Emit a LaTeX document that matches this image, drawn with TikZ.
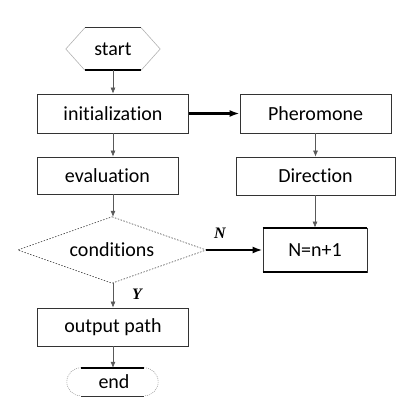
\documentclass[tikz,border=0pt]{standalone}
\usepackage{fontspec}
\setmainfont[Ligatures=NoCommon]{Carlito}
\newfontfamily\lblfont{Liberation Serif}
\usetikzlibrary{arrows.meta}

\begin{document}
\begin{tikzpicture}[x=1pt,y=-1pt,
    box/.style={draw=black!80, line width=0.8pt, minimum width=151pt, minimum height=39pt,
        inner sep=0pt, font=\fontsize{20}{22}\selectfont},
    shell/.style={inner sep=0pt, font=\fontsize{20}{22}\selectfont},
    flow/.style={-{Latex[length=6pt,width=5pt]}, draw=black!65, line width=0.6pt},
    bold flow/.style={-{Latex[length=10pt,width=7pt]}, draw=black, line width=2.2pt},
    lbl/.style={font=\lblfont\fontsize{16}{16}\selectfont\bfseries\itshape}]
    % Page size
    \useasboundingbox (0,0) rectangle (406,403);

    % Left column
    \node[shell, minimum width=94pt, minimum height=42pt] (start) at (113,49) {start};
    \node[box] (init) at (113,113.5) {initialization};
    \node[box, minimum width=141pt, minimum height=37pt] (eval) at (107.5,175.5) {evaluation};
    \node[shell, minimum width=188pt, minimum height=66pt] (cond) at (112,250) {conditions};
    \node[box, minimum height=38pt] (out) at (113,327) {output path};
    \node[shell, minimum width=94pt, minimum height=28pt] (stop) at (114,382) {end};

    % Right column
    \node[box] (pher) at (315.5,113.5) {Pheromone};
    \node[box, minimum width=159pt, minimum height=38pt] (dir) at (315.5,176) {Direction};
    \node[box, minimum width=104pt, minimum height=44pt] (count) at (315,250) {N=n+1};
    \draw[line width=2pt] (count.north west) -- (count.north east);
    \draw[line width=2pt] (count.south west) -- (count.south east);

    % Start hexagon
    \draw[black!30, line width=0.6pt] ([xshift=19pt]start.north west) -- (start.west) -- ([xshift=19pt]start.south west);
    \draw[black!30, line width=0.6pt] ([xshift=-19pt]start.north east) -- (start.east) -- ([xshift=-19pt]start.south east);
    \draw[black!80, line width=0.8pt] ([xshift=19pt]start.north west) -- ([xshift=-19pt]start.north east);
    \draw[line width=2pt] ([xshift=19pt]start.south west) -- ([xshift=-19pt]start.south east);

    % Decision diamond
    \draw[black!75, line width=0.6pt, dash pattern=on 1.5pt off 1.5pt]
        (cond.north) -- (cond.east) -- (cond.south) -- (cond.west) -- cycle;

    % End terminal
    \draw[black!35, line width=0.6pt, dash pattern=on 1pt off 1pt]
        ([xshift=14pt]stop.north west) arc (90:270:14pt);
    \draw[black!35, line width=0.6pt, dash pattern=on 1pt off 1pt]
        ([xshift=-17pt]stop.north east) arc (90:-90:14pt);
    \draw[line width=2pt] ([xshift=14pt]stop.north west) -- ([xshift=-17pt]stop.north east);
    \draw[black!80, line width=0.8pt] ([xshift=14pt]stop.south west) -- ([xshift=-17pt]stop.south east);

    % Connectors
    \draw[flow] (start.south) -- (init.north);
    \draw[flow] (init.south) -- (init.south |- eval.north);
    \draw[flow] (eval.south -| init.south) -- (cond.north -| init.south);
    \draw[flow] (cond.south -| init.south) -- (out.north);
    \draw[flow] (out.south) -- (out.south |- stop.north);
    \draw[flow] (pher.south) -- (pher.south |- dir.north);
    \draw[flow] (dir.south -| count.north) -- (count.north);
    \draw[bold flow] (init.east) -- (pher.west);
    \draw[bold flow] (cond.east) -- (count.west);

    % Branch labels
    \node[lbl] (no) at (220,233) {N};
    \node[lbl] (yes) at (137,294) {Y};
\end{tikzpicture}
\end{document}
